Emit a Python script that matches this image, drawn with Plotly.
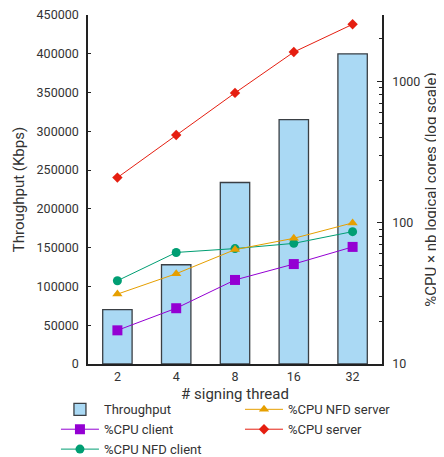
import plotly.graph_objects as go

threads = ["2", "4", "8", "16", "32"]
throughput = [70000, 128000, 234000, 315000, 400000]
cpu_client = [17.3, 24.8, 39.3, 50.9, 67.3]
cpu_nfd_client = [38.8, 61.5, 65.5, 71.3, 86.3]
cpu_nfd_server = [31.2, 43.5, 64.4, 77.4, 99.5]
cpu_server = [208, 416, 826, 1607, 2524]

left_ticks = [0, 50000, 100000, 150000, 200000, 250000, 300000, 350000, 400000, 450000]
right_ticks = [10, 100, 1000]
right_minor = [20, 30, 40, 50, 60, 70, 80, 90, 200, 300, 400, 500, 600, 700, 800, 900, 2000]

FONT = "Roboto"
TXT = "#333"
fig = go.Figure()

fig.add_trace(go.Bar(
    x=threads, y=throughput, name="Throughput", width=0.5,
    marker=dict(color="rgba(86,180,233,0.5)", line=dict(color="#3a3f44", width=1.3)),
    legend="legend",
))

series = [
    ("%CPU client", cpu_client, "#9400d3", "square", 10, "legend"),
    ("%CPU NFD client", cpu_nfd_client, "#009e73", "circle", 9, "legend"),
    ("%CPU NFD server", cpu_nfd_server, "#e69f00", "triangle-up", 9, "legend2"),
    ("%CPU server", cpu_server, "#e51e10", "diamond", 8, "legend2"),
]
for name, vals, col, sym, sz, lg in series:
    fig.add_trace(go.Scatter(
        x=threads, y=vals, name=name, yaxis="y2", mode="lines+markers",
        line=dict(color=col, width=1),
        marker=dict(symbol=sym, size=sz, color=col),
        legend=lg,
    ))

fig.update_layout(
    width=436, height=449,
    margin=dict(l=80, r=62, t=7, b=93, autoexpand=False),
    paper_bgcolor="white", plot_bgcolor="white",
    font=dict(family=FONT, size=12.5, color=TXT),
    showlegend=True,
    xaxis=dict(
        type="category", categoryorder="array", categoryarray=threads,
        range=[-0.5, 4.5], showline=True, linecolor="#222", linewidth=1.5,
        ticks="", showgrid=False, zeroline=False, automargin=False,
        title=dict(text="# signing thread", standoff=6),
    ),
    yaxis=dict(
        range=[0, 450000], tickvals=left_ticks, ticktext=[str(v) for v in left_ticks],
        showline=True, linecolor="#222", linewidth=1.5, automargin=False,
        ticks="inside", ticklen=3, tickcolor="#222", showgrid=False, zeroline=False,
        title=dict(text="Throughput (Kbps)", standoff=8),
        ticklabelstandoff=5, ticklabeloverflow="allow",
    ),
    yaxis2=dict(
        type="log", range=[1, 3.468], overlaying="y", side="right",
        tickvals=right_ticks, ticktext=[str(v) for v in right_ticks],
        showline=True, linecolor="#222", linewidth=1.5, automargin=False,
        ticks="inside", ticklen=5, tickcolor="#222", showgrid=False, zeroline=False,
        minor=dict(tickvals=right_minor, ticks="inside", ticklen=3, tickcolor="#222", showgrid=False),
        title=dict(text="%CPU × nb logical cores (log scale)", standoff=6),
        ticklabelstandoff=6, ticklabeloverflow="allow",
    ),
    legend=dict(
        x=-0.109, y=-0.087, xanchor="left", yanchor="top", orientation="v",
        bgcolor="rgba(0,0,0,0)", font=dict(size=13), tracegroupgap=0,
        itemwidth=38,
    ),
    legend2=dict(
        x=0.517, y=-0.087, xanchor="left", yanchor="top", orientation="v",
        bgcolor="rgba(0,0,0,0)", font=dict(size=13), tracegroupgap=0,
        itemwidth=38,
    ),
)

fig.write_html("out.html")
